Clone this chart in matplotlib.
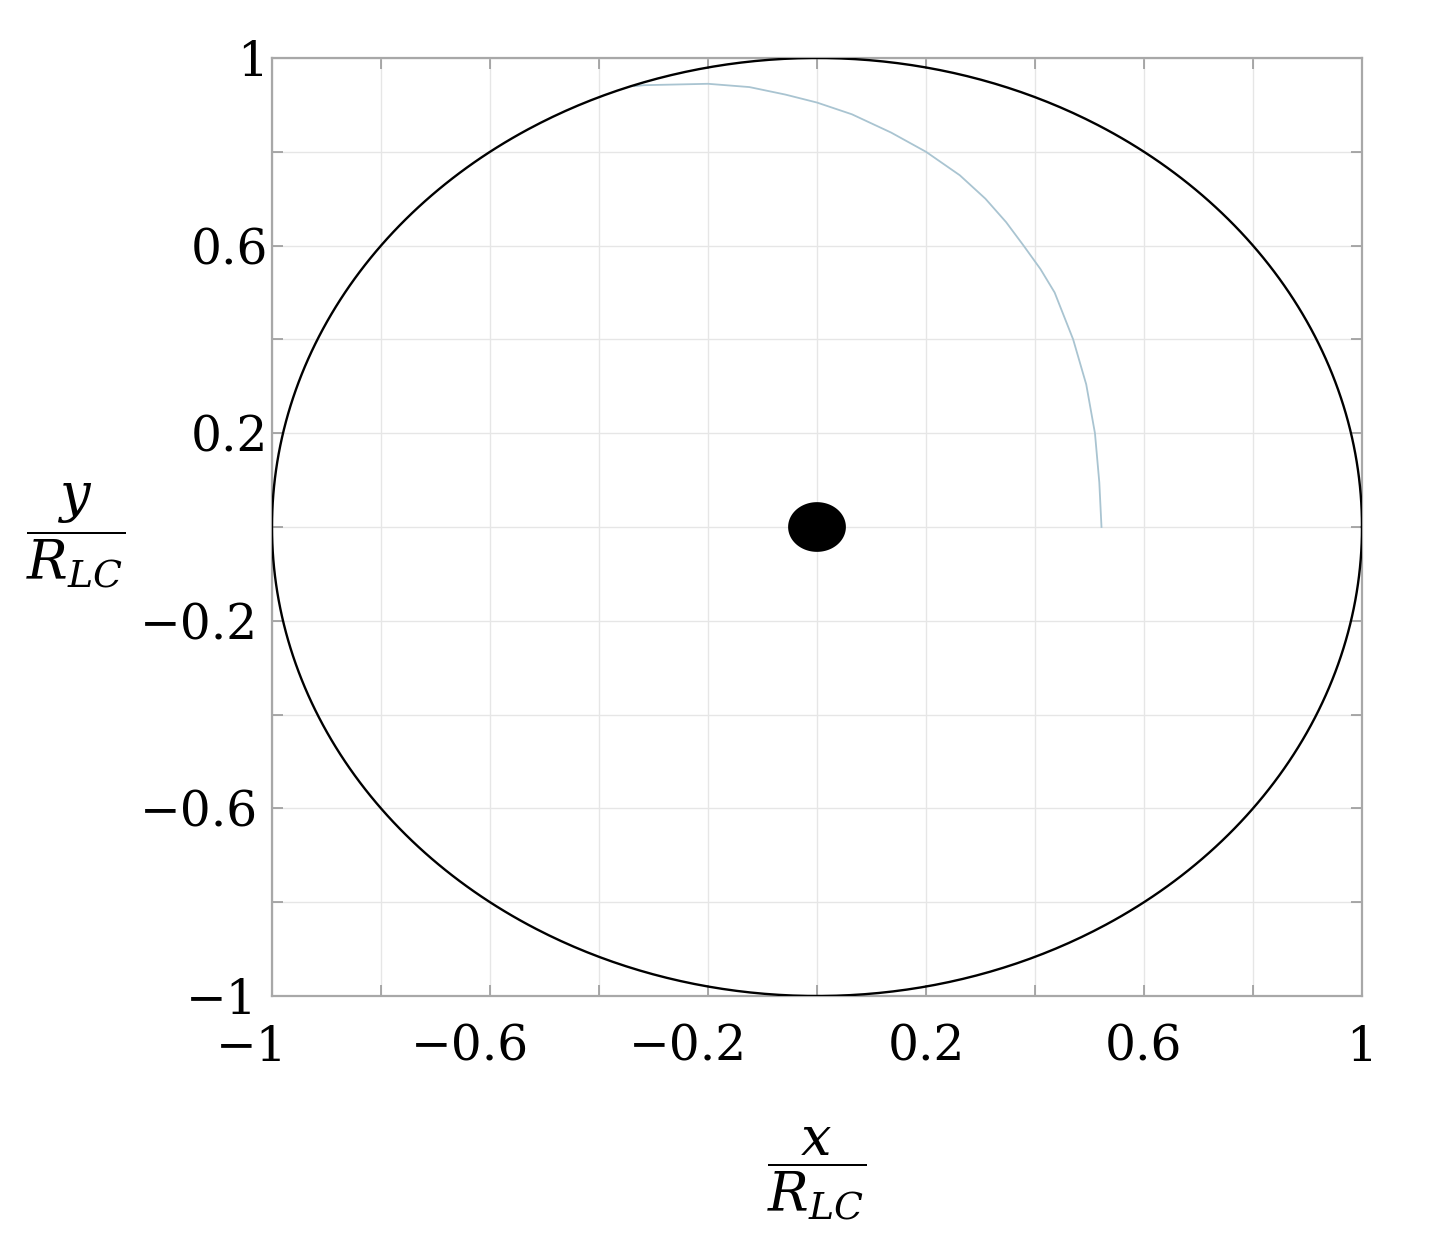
import numpy as np
import matplotlib
matplotlib.use("Agg")
import matplotlib.pyplot as plt
from matplotlib.transforms import ScaledTranslation

plt.rcParams['mathtext.fontset'] = 'dejavuserif'
plt.rcParams['font.family'] = ['DejaVu Serif']

# ---- data ----
# light-cylinder boundary (unit circle, x/R_LC, y/R_LC)
circle_radius = 1.0
# central star (filled dot) radius in x/R_LC units
star_radius = 0.053
# field line
field_x = [0.522, 0.518, 0.510, 0.494, 0.470, 0.436, 0.410, 0.379, 0.347,
           0.309, 0.262, 0.200, 0.136, 0.064, 0.000, -0.058, -0.124, -0.200,
           -0.318, -0.335]
field_y = [0.000, 0.095, 0.200, 0.304, 0.400, 0.500, 0.550, 0.600, 0.650,
           0.700, 0.750, 0.800, 0.841, 0.880, 0.905, 0.922, 0.938, 0.945,
           0.942, 0.940]

tick_vals = [-1.0, -0.8, -0.6, -0.4, -0.2, 0.0, 0.2, 0.4, 0.6, 0.8, 1.0]
tick_labels = ['\u22121', '', '\u22120.6', '', '\u22120.2', '', '0.2', '', '0.6', '', '1']

# ---- figure ----
fig = plt.figure(figsize=(14.35, 12.48), dpi=100)
ax = fig.add_axes([272/1435, 1 - 996/1248, (1362-272)/1435, (996-58)/1248])

theta = np.linspace(0, 2*np.pi, 721)
ax.plot(field_x, field_y, color='#a9c4d1', lw=1.3, zorder=3, solid_joinstyle='round')
ax.plot(circle_radius*np.cos(theta), circle_radius*np.sin(theta), color='black', lw=1.7, zorder=4)
ax.fill(star_radius*np.cos(theta), star_radius*np.sin(theta), color='black', lw=0, zorder=5)

ax.set_xlim(-1, 1)
ax.set_ylim(-1, 1)
ax.set_xticks(tick_vals)
ax.set_yticks(tick_vals)
ax.set_xticklabels(tick_labels)
ax.set_yticklabels(tick_labels)

ax.grid(True, color='#e6e6e6', lw=1.0)
ax.set_axisbelow(True)
for s in ax.spines.values():
    s.set_color('#a8a8a8')
    s.set_linewidth(1.6)
ax.tick_params(axis='both', which='both', direction='in', length=8, width=1.2,
               color='#9a9a9a', top=True, right=True, labelsize=35)
ax.tick_params(axis='x', pad=20)
ax.tick_params(axis='y', pad=3)

# negative labels: number centered on tick, minus hanging to the left
dpi_tr = fig.dpi_scale_trans
for lab, v in zip(ax.get_xticklabels(), tick_vals):
    if v < 0:
        lab.set_transform(lab.get_transform() + ScaledTranslation(-0.2, 0, dpi_tr))
for lab, v in zip(ax.get_yticklabels(), tick_vals):
    if v < 0:
        lab.set_transform(lab.get_transform() + ScaledTranslation(-0.1, 0, dpi_tr))

ax.set_xlabel(r'$\genfrac{}{}{2.5}{0}{x}{R_{LC}}$', fontsize=39, ha='center', va='center')
ax.xaxis.set_label_coords(0.5, -0.19)
ax.set_ylabel(r'$\genfrac{}{}{2.5}{0}{y}{R_{LC}}$', fontsize=39, rotation=0, ha='center', va='center')
ax.yaxis.set_label_coords(-0.18, 0.49)

fig.savefig('out.png', dpi=100, facecolor='white')
